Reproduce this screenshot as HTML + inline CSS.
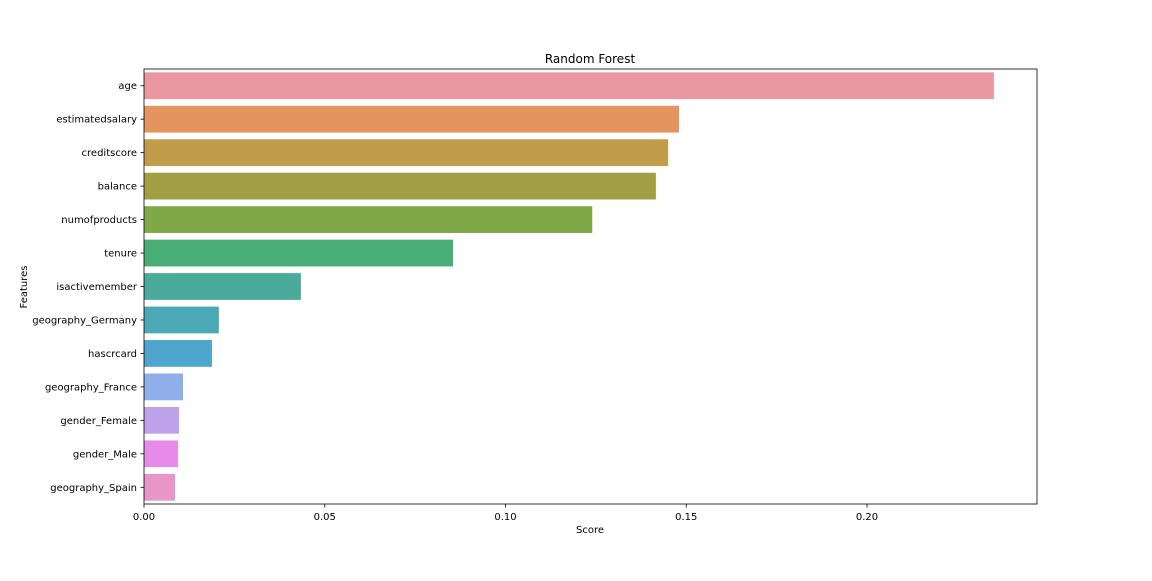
<!DOCTYPE html>
<html><head><meta charset="utf-8"><style>
body{margin:0;background:#fff}
svg text{font-family:"DejaVu Sans","Liberation Sans",sans-serif;fill:#000}
</style></head><body>
<svg id="chart" width="1152" height="576" xmlns="http://www.w3.org/2000/svg">
<text x="590" y="63" font-size="12" text-anchor="middle">Random Forest</text>
<g id="bars"></g>
<g id="axes"></g>
<text x="590" y="533" font-size="10" text-anchor="middle">Score</text>
<text transform="translate(27,287) rotate(-90)" font-size="10" text-anchor="middle">Features</text>
</svg>
<script>
const categories=["age","estimatedsalary","creditscore","balance","numofproducts","tenure","isactivemember","geography_Germany","hascrcard","geography_France","gender_Female","gender_Male","geography_Spain"];
const scores=[0.2351,0.148,0.145,0.1416,0.124,0.0855,0.0434,0.0207,0.0188,0.0108,0.0097,0.0094,0.0086];
const colors=["#ea96a3","#e3945f","#c09c4b","#a09f44","#7ea946","#49ae76","#4aab9d","#4aa9b5","#4ea5cd","#90aee9","#bea3ea","#e68ce8","#e896c6"];
const xTicks=[0,0.05,0.10,0.15,0.20];
const xTickLabels=["0.00","0.05","0.10","0.15","0.20"];
const L=144,R=1037,T=69,B=504,XMAX=(R-L)/3615;
const ns="http://www.w3.org/2000/svg";
const x=v=>L+v/XMAX*(R-L);
const band=(B-T)/categories.length;
const y=i=>T+i*band;
const bars=document.getElementById('bars'),axes=document.getElementById('axes');
function mk(tag,attrs,parent){const e=document.createElementNS(ns,tag);for(const k in attrs)e.setAttribute(k,attrs[k]);parent.appendChild(e);return e;}
categories.forEach((c,i)=>{
 const r=mk('rect',{x:x(0),y:y(i)+band*0.1,width:x(scores[i])-x(0),height:band*0.8,fill:colors[i]},bars);
 
 
 const t=mk('text',{x:L-7,y:y(i)+band/2+3.5,'font-size':10,'text-anchor':'end'},axes);
 t.textContent=c;
 
 
 mk('line',{x1:L-3.5,x2:L,y1:y(i)+band/2,y2:y(i)+band/2,stroke:'#000','stroke-width':0.8},axes);
});
xTicks.forEach((v,i)=>{
 mk('line',{x1:x(v),x2:x(v),y1:B,y2:B+3.5,stroke:'#000','stroke-width':0.8},axes);
 const t=mk('text',{x:x(v),y:B+16,'font-size':10,'text-anchor':'middle'},axes);
 t.textContent=xTickLabels[i];
 
 
});
const f=mk('rect',{x:L,y:T,width:R-L,height:B-T,fill:'none',stroke:'#000','stroke-width':0.8},axes);


</script>
</body></html>
